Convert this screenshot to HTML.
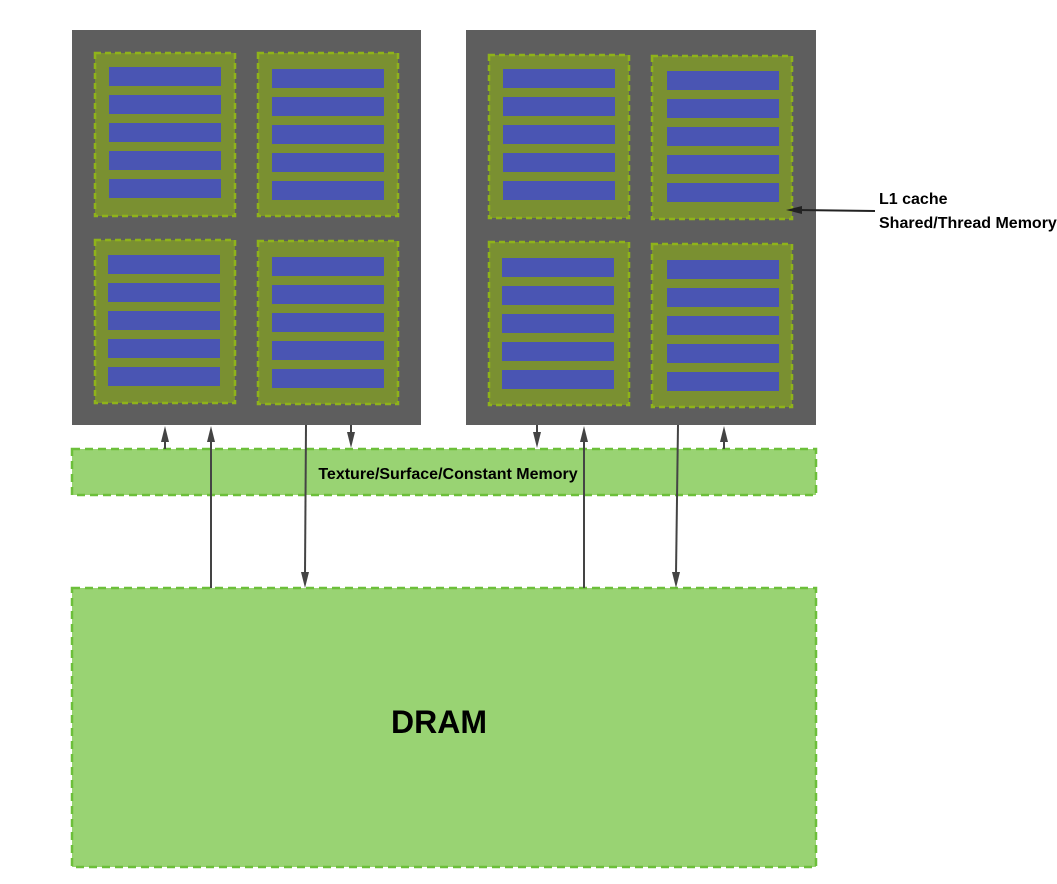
<!DOCTYPE html>
<html><head><style>body{margin:0;background:#fff}svg{display:block}</style></head><body>
<svg width="1057" height="884" viewBox="0 0 1057 884" xmlns="http://www.w3.org/2000/svg" font-family="Liberation Sans, sans-serif">
<rect x="72" y="30" width="349" height="395" fill="#5e5e5e"/>
<rect x="466" y="30" width="350" height="395" fill="#5e5e5e"/>
<g stroke="#8fb31a" stroke-width="2.5" stroke-dasharray="6 4" fill="#7a9031">
<rect x="95" y="53" width="140" height="163"/>
<rect x="258" y="53" width="140" height="163"/>
<rect x="95" y="240" width="140" height="163"/>
<rect x="258" y="241" width="140" height="163"/>
<rect x="489" y="55" width="140" height="163"/>
<rect x="652" y="56" width="140" height="163"/>
<rect x="489" y="242" width="140" height="163"/>
<rect x="652" y="244" width="140" height="163"/>
</g>
<g fill="#4a55b3">
<rect x="109" y="67" width="112" height="19"/><rect x="109" y="95" width="112" height="19"/><rect x="109" y="123" width="112" height="19"/><rect x="109" y="151" width="112" height="19"/><rect x="109" y="179" width="112" height="19"/>
<rect x="272" y="69" width="112" height="19"/><rect x="272" y="97" width="112" height="19"/><rect x="272" y="125" width="112" height="19"/><rect x="272" y="153" width="112" height="19"/><rect x="272" y="181" width="112" height="19"/>
<rect x="108" y="255" width="112" height="19"/><rect x="108" y="283" width="112" height="19"/><rect x="108" y="311" width="112" height="19"/><rect x="108" y="339" width="112" height="19"/><rect x="108" y="367" width="112" height="19"/>
<rect x="272" y="257" width="112" height="19"/><rect x="272" y="285" width="112" height="19"/><rect x="272" y="313" width="112" height="19"/><rect x="272" y="341" width="112" height="19"/><rect x="272" y="369" width="112" height="19"/>
<rect x="503" y="69" width="112" height="19"/><rect x="503" y="97" width="112" height="19"/><rect x="503" y="125" width="112" height="19"/><rect x="503" y="153" width="112" height="19"/><rect x="503" y="181" width="112" height="19"/>
<rect x="667" y="71" width="112" height="19"/><rect x="667" y="99" width="112" height="19"/><rect x="667" y="127" width="112" height="19"/><rect x="667" y="155" width="112" height="19"/><rect x="667" y="183" width="112" height="19"/>
<rect x="502" y="258" width="112" height="19"/><rect x="502" y="286" width="112" height="19"/><rect x="502" y="314" width="112" height="19"/><rect x="502" y="342" width="112" height="19"/><rect x="502" y="370" width="112" height="19"/>
<rect x="667" y="260" width="112" height="19"/><rect x="667" y="288" width="112" height="19"/><rect x="667" y="316" width="112" height="19"/><rect x="667" y="344" width="112" height="19"/><rect x="667" y="372" width="112" height="19"/>
</g>
<g stroke="#6cbf3a" stroke-width="2.5" stroke-dasharray="8 5" fill="#99d373">
<rect x="72" y="449" width="744" height="46"/>
<rect x="72" y="588" width="744" height="279"/>
</g>
<text x="448" y="479" font-size="16" font-weight="bold" text-anchor="middle">Texture/Surface/Constant Memory</text>
<text x="439" y="733" font-size="32" font-weight="bold" text-anchor="middle">DRAM</text>
<text x="879" y="204" font-size="16" font-weight="bold">L1 cache</text>
<text x="879" y="228" font-size="16" font-weight="bold">Shared/Thread Memory</text>
<g stroke="#444" stroke-width="2">
<line x1="165" y1="449" x2="165" y2="440"/>
<line x1="211" y1="588" x2="211" y2="440"/>
<line x1="306" y1="425" x2="305" y2="574"/>
<line x1="351" y1="425" x2="351" y2="434"/>
<line x1="537" y1="425" x2="537" y2="434"/>
<line x1="584" y1="588" x2="584" y2="440"/>
<line x1="678" y1="425" x2="676" y2="574"/>
<line x1="724" y1="449" x2="724" y2="440"/>
<line x1="875" y1="211" x2="798" y2="210" stroke="#222"/>
</g>
<g fill="#444">
<polygon points="165,426 161,442 169,442"/>
<polygon points="211,426 207,442 215,442"/>
<polygon points="305,588 301,572 309,572"/>
<polygon points="351,448 347,432 355,432"/>
<polygon points="537,448 533,432 541,432"/>
<polygon points="584,426 580,442 588,442"/>
<polygon points="676,588 672,572 680,572"/>
<polygon points="724,426 720,442 728,442"/>
<polygon points="786,210 802,206 802,214" fill="#222"/>
</g>
</svg>
</body></html>
